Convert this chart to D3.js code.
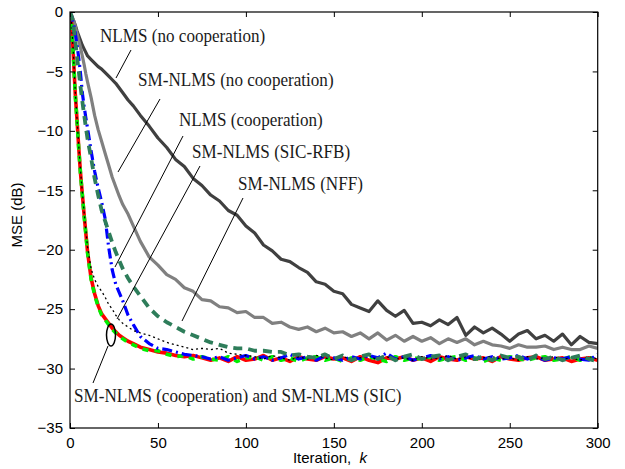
<!DOCTYPE html>
<html><head><meta charset="utf-8">
<script src="https://cdn.jsdelivr.net/npm/d3@7"></script>
<style>body{margin:0;background:#fff}svg{display:block}</style>
</head><body>
<svg id="chart" width="625" height="469"></svg>
<script>
const iters = [0,1,2,3,4,5,6,7,8,9,10,
 12,14,16,18,20,22,24,26,28,30,
 33,36,40,
 45,50,55,60,65,70,75,80,85,90,
 95,100,105,110,115,120,125,130,135,140,
 145,150,155,160,165,170,175,180,185,190,
 195,200,205,210,215,220,225,230,235,240,
 245,250,255,260,265,270,275,280,285,290,
 295,300];

const nlmsNoCoop = [-0.3,-0.4,-0.7,-1.1,-1.6,-2.0,-2.4,-2.8,-3.1,-3.4,-3.7,
 -4.0,-4.3,-4.6,-4.8,-5.1,-5.4,-5.7,-6.0,-6.4,-6.8,
 -7.4,-7.9,-8.7,
 -9.6,-10.6,-11.4,-12.4,-13.0,-14.0,-14.6,-15.4,-15.9,-16.7,
 -17.1,-18.0,-18.6,-19.6,-20.1,-20.8,-21.0,-21.5,-21.9,-22.7,
 -22.9,-23.5,-23.7,-24.6,-24.9,-25.2,-24.3,-25.1,-25.6,-25.1,
 -26.2,-26.1,-26.4,-25.9,-26.3,-25.7,-27.2,-26.5,-27.0,-26.6,
 -27.1,-27.7,-27.1,-26.8,-27.5,-27.2,-27.7,-27.1,-28.0,-27.3,
 -27.8,-27.9];

const smNoCoop = [-0.1,-0.3,-0.7,-1.2,-1.8,-2.4,-3.0,-3.7,-4.4,-5.2,-5.9,
 -7.2,-8.7,-9.9,-10.9,-11.9,-12.9,-13.9,-14.7,-15.5,-16.2,
 -17.0,-18.0,-19.3,
 -20.6,-21.3,-22.1,-22.5,-23.2,-23.5,-24.2,-24.3,-24.8,-24.9,
 -25.3,-25.2,-25.7,-25.7,-26.2,-26.1,-26.5,-26.7,-26.5,-26.9,
 -26.6,-27.0,-26.9,-27.3,-27.0,-27.5,-27.0,-27.6,-27.2,-27.7,
 -27.3,-27.7,-27.4,-27.9,-27.5,-27.8,-27.5,-28.0,-27.7,-28.0,
 -28.1,-28.3,-28.0,-28.2,-28.2,-28.1,-28.4,-28.2,-28.4,-28.4,
 -28.1,-28.3];

const nlmsCoop = [0,-0.4,-1.0,-1.8,-2.8,-3.9,-5.2,-6.8,-7.9,-8.9,-9.8,
 -11.7,-13.4,-14.8,-16.0,-17.4,-19.8,-21.7,-22.9,-23.6,-24.3,
 -25.5,-26.3,-27.3,
 -27.9,-28.3,-28.4,-28.6,-28.8,-28.9,-29.0,-29.2,-29.0,-29.3,
 -29.1,-28.9,-29.2,-29.0,-29.3,-29.1,-28.8,-29.2,-29.0,-29.3,
 -28.9,-29.1,-29.3,-29.0,-29.2,-28.9,-29.1,-28.7,-29.2,-29.0,
 -29.3,-29.1,-28.9,-29.2,-29.0,-29.3,-29.1,-28.9,-29.2,-29.0,
 -29.2,-29.1,-28.9,-29.2,-29.0,-29.3,-29.1,-29.2,-29.0,-29.2,
 -29.3,-28.8];

const smSicRfb = [0,-1.0,-3.7,-6.7,-9.0,-11.3,-13.4,-15.1,-16.8,-18.3,-19.8,
 -21.6,-22.5,-23.1,-23.5,-24.0,-24.6,-25.0,-25.5,-25.9,-26.2,
 -26.5,-26.8,-27.0,
 -27.2,-27.5,-27.8,-28.0,-28.2,-28.4,-28.3,-28.4,-28.3,-28.7,
 -28.8,-28.9,-29.0,-29.2,-28.9,-29.1,-29.3,-29.0,-29.2,-28.9,
 -29.1,-29.3,-29.0,-29.2,-29.1,-28.9,-29.3,-29.0,-29.2,-29.1,
 -29.3,-29.0,-29.2,-29.1,-28.9,-29.2,-29.0,-29.3,-29.1,-29.0,
 -29.2,-29.1,-29.3,-29.0,-29.2,-29.1,-29.0,-29.2,-29.1,-29.3,
 -29.0,-29.2];

const smNff = [0,-0.4,-1.3,-2.4,-3.8,-5.0,-6.3,-7.5,-8.6,-9.7,-10.7,
 -12.3,-14.0,-15.4,-16.7,-17.6,-18.5,-19.4,-20.2,-20.9,-21.6,
 -22.4,-23.1,-23.9,
 -24.9,-25.6,-26.1,-26.5,-26.9,-27.2,-27.5,-27.8,-28.0,-28.2,
 -28.3,-28.3,-28.5,-28.5,-28.6,-28.6,-28.9,-28.8,-29.0,-29.1,
 -28.8,-29.2,-28.9,-29.3,-29.0,-28.8,-29.2,-28.9,-29.3,-29.0,
 -28.8,-29.2,-29.0,-28.9,-29.3,-29.0,-28.8,-29.2,-29.0,-29.3,
 -28.9,-29.1,-29.0,-29.3,-28.9,-29.2,-29.0,-29.3,-29.1,-28.9,
 -29.2,-29.4];

const smCoop = [0,-1.1,-3.9,-6.9,-9.1,-11.5,-13.6,-15.3,-17.0,-18.6,-20.2,
 -22.4,-23.7,-24.7,-25.4,-25.8,-26.2,-26.6,-26.9,-27.2,-27.4,
 -27.7,-27.9,-28.2,
 -28.4,-28.6,-28.7,-28.9,-29.0,-28.9,-29.1,-29.3,-29.1,-29.4,
 -29.0,-29.3,-29.2,-28.9,-29.3,-29.1,-29.4,-29.0,-29.2,-29.3,
 -29.0,-29.2,-29.1,-29.4,-29.0,-29.3,-29.5,-29.1,-29.2,-29.0,
 -29.3,-29.1,-29.4,-29.0,-29.2,-29.3,-29.0,-29.2,-29.1,-29.4,
 -29.0,-29.2,-29.3,-29.1,-29.0,-29.3,-29.2,-29.1,-29.4,-29.2,
 -29.1,-29.3];

const smSic = [0,-1.2,-4.0,-7.0,-9.2,-11.6,-13.7,-15.4,-17.1,-18.7,-20.3,
 -22.5,-23.8,-24.8,-25.5,-25.9,-26.3,-26.7,-27.0,-27.3,-27.5,
 -27.8,-28.0,-28.3,
 -28.5,-28.5,-28.8,-29.0,-28.9,-29.2,-29.0,-29.2,-29.3,-29.0,
 -29.4,-29.1,-29.0,-29.3,-29.0,-29.3,-29.1,-29.4,-29.1,-29.0,
 -29.3,-29.1,-29.4,-29.1,-29.3,-29.0,-29.2,-29.4,-29.0,-29.3,
 -29.1,-29.2,-29.0,-29.3,-29.1,-29.0,-29.3,-29.1,-29.4,-29.1,
 -29.3,-29.0,-29.2,-29.3,-29.1,-29.0,-29.3,-29.2,-29.0,-29.3,
 -29.2,-29.0];

const xTicks = [0,50,100,150,200,250,300];
const yTicks = [0,-5,-10,-15,-20,-25,-30,-35];

const labels = [
  {text:"NLMS (no cooperation)", tx:100, ty:42, line:[131,50,116,78]},
  {text:"SM-NLMS (no cooperation)", tx:138, ty:86, line:[160,99,118,172]},
  {text:"NLMS (cooperation)", tx:179, ty:126, line:[183,136,115,267]},
  {text:"SM-NLMS (SIC-RFB)", tx:192, ty:158, line:[200,166,117,319]},
  {text:"SM-NLMS (NFF)", tx:238, ty:190, line:[243,198,182,321]},
  {text:"SM-NLMS (cooperation) and SM-NLMS (SIC)", tx:74, ty:402, line:[93,383,108,346]}
];

const svg = d3.select("#chart");
const L = 70, R = 597.7, T = 12, B = 428;
const x = d3.scaleLinear().domain([0,300]).range([L,R]);
const y = d3.scaleLinear().domain([-35,0]).range([B,T]);

svg.append("defs").append("clipPath").attr("id","clip")
  .append("rect").attr("x",L).attr("y",T).attr("width",R-L).attr("height",B-T);

const series = [
  {v:nlmsNoCoop, color:"#404040", w:3.2, dash:null},
  {v:smNoCoop, color:"#808080", w:3.2, dash:null},
  {v:smCoop, color:"#ff0000", w:3.6, dash:null},
  {v:smSic, color:"#00ee00", w:3.6, dash:"6,6"},
  {v:nlmsCoop, color:"#0000ff", w:3.2, dash:"10,4,2,4"},
  {v:smSicRfb, color:"#000000", w:1.3, dash:"2,3"},
  {v:smNff, color:"#2e7d5a", w:3.8, dash:"9,6"}
];

const line = d3.line().x((d,i)=>x(iters[i])).y(d=>y(d));
const g = svg.append("g").attr("clip-path","url(#clip)");
series.forEach(s=>{
  g.append("path").attr("d", line(s.v)).attr("fill","none")
   .attr("stroke", s.color).attr("stroke-width", s.w)
   .attr("stroke-linejoin","round")
   .attr("stroke-dasharray", s.dash);
});

// axes
const font = '"Liberation Sans", Arial, Helvetica, sans-serif';
const xb = svg.append("g").attr("transform",`translate(0,${B})`)
  .call(d3.axisBottom(x).tickValues(xTicks).tickSize(-5).tickPadding(9).tickFormat(d3.format("d")));
const xt = svg.append("g").attr("transform",`translate(0,${T})`)
  .call(d3.axisTop(x).tickValues(xTicks).tickSize(-5).tickFormat(""));
const yl = svg.append("g").attr("transform",`translate(${L},0)`)
  .call(d3.axisLeft(y).tickValues(yTicks).tickSize(-5).tickPadding(7).tickFormat(d=>d<0?"\u2212"+Math.abs(d):d));
const yr = svg.append("g").attr("transform",`translate(${R},0)`)
  .call(d3.axisRight(y).tickValues(yTicks).tickSize(-5).tickFormat(""));
[xb,xt,yl,yr].forEach(a=>{
  a.select(".domain").remove();
  a.selectAll("line").attr("stroke","#000");
  a.selectAll("text").style("font-family",font).style("font-size","15px").attr("fill","#000");
});
svg.append("rect").attr("x",L).attr("y",T).attr("width",R-L).attr("height",B-T)
  .attr("fill","none").attr("stroke","#000").attr("stroke-width",1.2);

const xl = svg.append("text").attr("x",330).attr("y",463).attr("text-anchor","middle")
  .style("font-family",font).style("font-size","15px").attr("xml:space","preserve");
xl.append("tspan").text("Iteration,\u00a0\u00a0");
xl.append("tspan").style("font-style","italic").text("k");
svg.append("text").attr("transform","translate(22,215) rotate(-90)").attr("text-anchor","middle")
  .style("font-family",font).style("font-size","15px").text("MSE (dB)");

// annotations
const ann = svg.append("g");
labels.forEach(l=>{
  ann.append("line").attr("x1",l.line[0]).attr("y1",l.line[1]).attr("x2",l.line[2]).attr("y2",l.line[3])
    .attr("stroke","#000").attr("stroke-width",1);
  ann.append("text").attr("transform",`translate(${l.tx},${l.ty}) scale(0.95,1)`)
    .style("font-family",'"Liberation Serif", "Times New Roman", serif')
    .style("font-size","18px").attr("fill","#1a1a1a").text(l.text);
});
ann.append("ellipse").attr("cx",111).attr("cy",335).attr("rx",4.5).attr("ry",11)
  .attr("fill","none").attr("stroke","#000").attr("stroke-width",1.5);
</script>
</body></html>
